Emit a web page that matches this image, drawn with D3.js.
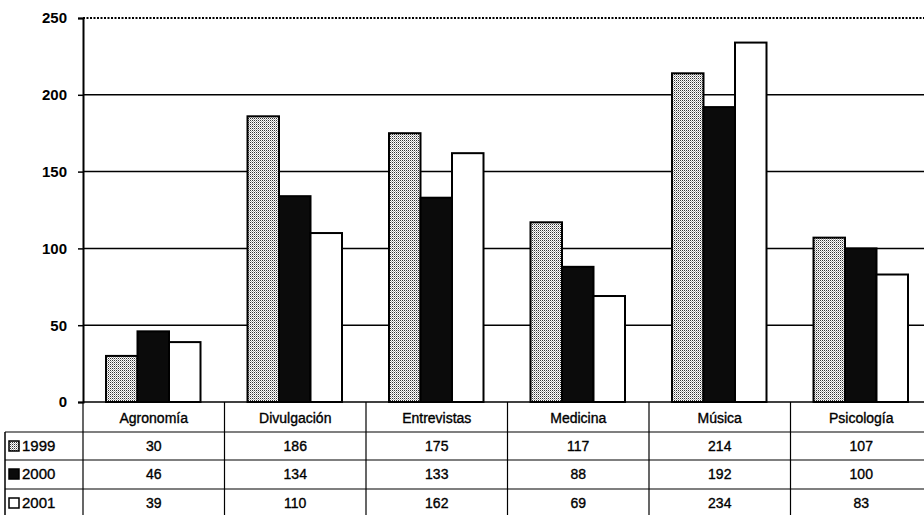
<!DOCTYPE html>
<html>
<head>
<meta charset="utf-8">
<script src="https://cdn.jsdelivr.net/npm/d3@7"></script>
<style>
  body { margin: 0; background: #fff; }
  svg { display: block; font-family: "Liberation Sans", Arial, sans-serif; }
  .table text { stroke: #000; stroke-width: 0.35px; }
</style>
</head>
<body>
<script>
//chart data
var categories = ["Agronomía", "Divulgación", "Entrevistas", "Medicina", "Música", "Psicología"];
var years = ["1999", "2000", "2001"];
var values1999 = [30, 186, 175, 117, 214, 107];
var values2000 = [46, 134, 133, 88, 192, 100];
var values2001 = [39, 110, 162, 69, 234, 83];
var yTicks = [0, 50, 100, 150, 200, 250];

var seriesValues = [values1999, values2000, values2001];

//frame
var width = 924,
    height = 515;

var plotLeft = 83,
    plotTop = 18,
    plotBottom = 402,
    colW = 141.5;

var svg = d3.select("body")
    .append("svg")
    .attr("width", width)
    .attr("height", height);

//fills: stippled grey, black, white
var defs = svg.append("defs");
var pat = defs.append("pattern")
    .attr("id", "stipple")
    .attr("patternUnits", "userSpaceOnUse")
    .attr("width", 2)
    .attr("height", 2);
pat.append("rect").attr("width", 2).attr("height", 2).attr("fill", "#fff");
pat.append("rect").attr("width", 1).attr("height", 1).attr("fill", "#333");
pat.append("rect").attr("x", 1).attr("y", 1).attr("width", 1).attr("height", 1).attr("fill", "#aaa");

var fills = ["url(#stipple)", "#0b0b0b", "#fff"];

//scales
var x = d3.scaleBand()
    .domain(categories)
    .range([plotLeft, plotLeft + colW * categories.length]);

var xInner = d3.scaleBand()
    .domain(years)
    .range([23, colW - 24]);

var y = d3.scaleLinear()
    .domain([0, 250])
    .range([plotBottom, plotTop]);

//gridlines
svg.selectAll(".grid")
    .data(yTicks.filter(function(d){ return d > 0 && d < 250; }))
    .enter()
    .append("line")
    .attr("x1", plotLeft)
    .attr("x2", width)
    .attr("y1", function(d){ return y(d); })
    .attr("y2", function(d){ return y(d); })
    .attr("stroke", "#000")
    .attr("stroke-width", 1.5);

//dotted top border
svg.append("line")
    .attr("x1", plotLeft)
    .attr("x2", width)
    .attr("y1", y(250))
    .attr("y2", y(250))
    .attr("stroke", "#000")
    .attr("stroke-width", 2)
    .attr("stroke-dasharray", "2,1.5");

//bars
var groups = svg.selectAll(".series")
    .data(seriesValues)
    .enter()
    .append("g")
    .attr("class", "series");

groups.selectAll("rect")
    .data(function(vals, i){
        return vals.map(function(v, j){ return {cat: categories[j], year: years[i], value: v, s: i}; });
    })
    .enter()
    .append("rect")
    .attr("x", function(d){ return x(d.cat) + xInner(d.year); })
    .attr("y", function(d){ return y(d.value); })
    .attr("width", xInner.bandwidth())
    .attr("height", function(d){ return y(0) - y(d.value); })
    .attr("fill", function(d){ return fills[d.s]; })
    .attr("stroke", "#000")
    .attr("stroke-width", 2);

//y axis
var yAxis = d3.axisLeft(y)
    .tickValues(yTicks)
    .tickSize(5)
    .tickPadding(11);

var ax = svg.append("g")
    .attr("transform", "translate(" + plotLeft + ",0)")
    .call(yAxis);
ax.select(".domain").attr("stroke-width", 2);
ax.selectAll(".tick line").attr("stroke-width", 1.5);
ax.selectAll("text")
    .attr("font-size", 15)
    .attr("font-weight", "bold")
    .attr("font-family", "Liberation Sans, Arial, sans-serif")
    .attr("fill", "#000");

//baseline
svg.append("line")
    .attr("x1", plotLeft)
    .attr("x2", width)
    .attr("y1", y(0))
    .attr("y2", y(0))
    .attr("stroke", "#000")
    .attr("stroke-width", 1.5);

//data table
var rowTops = [plotBottom, 432, 460, 489];

var table = svg.append("g").attr("class", "table");

//horizontal lines under header and rows
table.selectAll(".hline")
    .data(rowTops.slice(1))
    .enter()
    .append("line")
    .attr("x1", 5)
    .attr("x2", width)
    .attr("y1", function(d){ return d; })
    .attr("y2", function(d){ return d; })
    .attr("stroke", "#000")
    .attr("stroke-width", 1.2);

//vertical separators
var bounds = categories.map(function(c){ return x(c); }).concat([x.range()[1]]);
table.selectAll(".vline")
    .data(bounds)
    .enter()
    .append("line")
    .attr("x1", function(d){ return d; })
    .attr("x2", function(d){ return d; })
    .attr("y1", plotBottom)
    .attr("y2", height)
    .attr("stroke", "#000")
    .attr("stroke-width", 1.2);

table.append("line")
    .attr("x1", 5).attr("x2", 5)
    .attr("y1", rowTops[1]).attr("y2", height)
    .attr("stroke", "#000")
    .attr("stroke-width", 1.5);

//header labels
table.selectAll(".head")
    .data(categories)
    .enter()
    .append("text")
    .attr("x", function(d){ return x(d) + x.bandwidth() / 2; })
    .attr("y", plotBottom + 21)
    .attr("text-anchor", "middle")
    .attr("font-size", 14)
    .text(function(d){ return d; });

//cell values
seriesValues.forEach(function(vals, i){
    var ty = rowTops[i + 1] + 19;
    table.selectAll(".cell" + i)
        .data(vals)
        .enter()
        .append("text")
        .attr("x", function(d, j){ return x(categories[j]) + x.bandwidth() / 2; })
        .attr("y", ty)
        .attr("text-anchor", "middle")
        .attr("font-size", 14)
        .text(function(d){ return d; });

    //legend key
    table.append("rect")
        .attr("x", 9)
        .attr("y", rowTops[i + 1] + 9)
        .attr("width", 10)
        .attr("height", 10)
        .attr("fill", fills[i])
        .attr("stroke", "#000")
        .attr("stroke-width", 1.5);

    table.append("text")
        .attr("x", 22)
        .attr("y", ty)
        .attr("font-size", 15)
        .text(years[i]);
});
</script>
</body>
</html>
